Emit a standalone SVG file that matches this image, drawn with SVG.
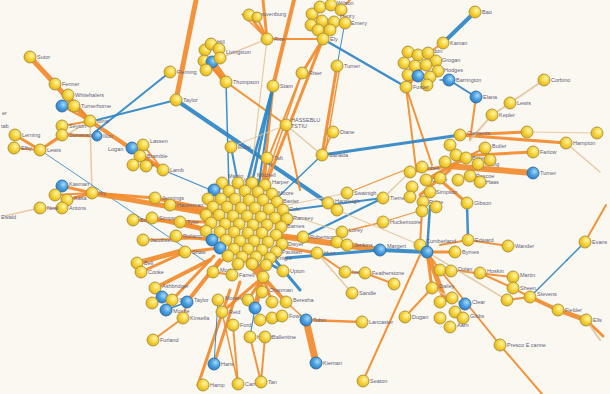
<svg xmlns="http://www.w3.org/2000/svg" width="610" height="394" viewBox="0 0 610 394">
<defs>
<radialGradient id="gy" cx="0.62" cy="0.38" r="0.7">
<stop offset="0" stop-color="#fff6a8"/><stop offset="0.5" stop-color="#f6d23a"/><stop offset="1" stop-color="#dcae12"/>
</radialGradient>
<radialGradient id="gb" cx="0.62" cy="0.38" r="0.7">
<stop offset="0" stop-color="#a6d8f8"/><stop offset="0.5" stop-color="#4a9fe0"/><stop offset="1" stop-color="#2a78c0"/>
</radialGradient>
<style>
.y circle{fill:url(#gy);stroke:#a89040;stroke-width:0.9}
.b circle{fill:url(#gb);stroke:#2d6c9e;stroke-width:0.9}
text{font-family:"Liberation Sans",Arial,sans-serif;font-size:5.5px;fill:#62627a}
#edges line{stroke-linecap:round;opacity:0.92}
.o{stroke:#f28b2e}
.bl{stroke:#2e86c5}
.t{stroke:#e6c6a0}
</style>
</defs>
<rect width="610" height="394" fill="#fbf8f1"/>
<g id="edges" fill="none">
<line class="o" x1="30" y1="57" x2="55" y2="84" stroke-width="5"/>
<line class="o" x1="55" y1="84" x2="74" y2="106" stroke-width="5"/>
<line class="o" x1="74" y1="106" x2="90" y2="121" stroke-width="5"/>
<line class="o" x1="68" y1="95" x2="90" y2="121" stroke-width="3"/>
<line class="o" x1="62" y1="106" x2="90" y2="121" stroke-width="2"/>
<line class="o" x1="90" y1="121" x2="62" y2="126" stroke-width="2"/>
<line class="t" x1="90" y1="121" x2="40" y2="150" stroke-width="1.5"/>
<line class="o" x1="15" y1="135" x2="40" y2="150" stroke-width="3"/>
<line class="o" x1="40" y1="150" x2="62" y2="135" stroke-width="3"/>
<line class="o" x1="62" y1="135" x2="97" y2="136" stroke-width="3"/>
<line class="o" x1="14" y1="148" x2="40" y2="150" stroke-width="2"/>
<line class="t" x1="90" y1="121" x2="92" y2="193" stroke-width="1.5"/>
<line class="o" x1="90" y1="121" x2="163" y2="170" stroke-width="4"/>
<line class="o" x1="132" y1="148" x2="163" y2="170" stroke-width="3"/>
<line class="o" x1="143" y1="145" x2="163" y2="170" stroke-width="2"/>
<line class="o" x1="140" y1="156" x2="163" y2="170" stroke-width="2"/>
<line class="bl" x1="163" y1="170" x2="230" y2="198" stroke-width="1.2"/>
<line class="bl" x1="170" y1="72" x2="95" y2="132" stroke-width="2"/>
<line class="bl" x1="176" y1="100" x2="97" y2="120" stroke-width="2"/>
<line class="bl" x1="176" y1="100" x2="328" y2="203" stroke-width="4"/>
<line class="o" x1="196" y1="0" x2="176" y2="100" stroke-width="5"/>
<line class="bl" x1="40" y1="150" x2="206" y2="262" stroke-width="0.9"/>
<line class="o" x1="62" y1="186" x2="92" y2="193" stroke-width="3"/>
<line class="o" x1="67" y1="200" x2="92" y2="193" stroke-width="3"/>
<line class="o" x1="55" y1="195" x2="92" y2="193" stroke-width="2"/>
<line class="t" x1="40" y1="208" x2="62" y2="208" stroke-width="2"/>
<line class="t" x1="4" y1="216" x2="40" y2="208" stroke-width="1.5"/>
<line class="o" x1="92" y1="193" x2="210" y2="214" stroke-width="5"/>
<line class="o" x1="92" y1="193" x2="155" y2="198" stroke-width="3"/>
<line class="o" x1="155" y1="198" x2="210" y2="210" stroke-width="4"/>
<line class="o" x1="170" y1="205" x2="215" y2="214" stroke-width="3"/>
<line class="o" x1="133" y1="220" x2="206" y2="222" stroke-width="3"/>
<line class="o" x1="152" y1="218" x2="206" y2="230" stroke-width="4"/>
<line class="o" x1="180" y1="222" x2="210" y2="230" stroke-width="3"/>
<line class="o" x1="143" y1="240" x2="210" y2="238" stroke-width="2"/>
<line class="o" x1="176" y1="236" x2="212" y2="240" stroke-width="3"/>
<line class="o" x1="185" y1="252" x2="220" y2="248" stroke-width="3"/>
<line class="o" x1="137" y1="263" x2="185" y2="250" stroke-width="5"/>
<line class="o" x1="141" y1="272" x2="185" y2="252" stroke-width="3"/>
<line class="o" x1="155" y1="288" x2="210" y2="260" stroke-width="4"/>
<line class="o" x1="187" y1="302" x2="220" y2="260" stroke-width="4"/>
<line class="o" x1="172" y1="300" x2="214" y2="256" stroke-width="3"/>
<line class="o" x1="162" y1="297" x2="172" y2="300" stroke-width="2"/>
<line class="o" x1="153" y1="340" x2="183" y2="318" stroke-width="2"/>
<line class="o" x1="183" y1="318" x2="187" y2="302" stroke-width="1.5"/>
<line class="bl" x1="166" y1="310" x2="187" y2="302" stroke-width="1.5"/>
<line class="o" x1="250" y1="262" x2="263" y2="277" stroke-width="9"/>
<line class="o" x1="263" y1="277" x2="255" y2="308" stroke-width="5"/>
<line class="o" x1="263" y1="277" x2="286" y2="302" stroke-width="4"/>
<line class="o" x1="263" y1="277" x2="272" y2="302" stroke-width="3"/>
<line class="o" x1="263" y1="277" x2="222" y2="312" stroke-width="3"/>
<line class="o" x1="263" y1="277" x2="248" y2="300" stroke-width="3"/>
<line class="o" x1="213" y1="272" x2="232" y2="275" stroke-width="2"/>
<line class="o" x1="213" y1="272" x2="228" y2="254" stroke-width="2"/>
<line class="o" x1="232" y1="275" x2="242" y2="254" stroke-width="3"/>
<line class="bl" x1="266" y1="262" x2="283" y2="271" stroke-width="3"/>
<line class="bl" x1="270" y1="254" x2="300" y2="290" stroke-width="3"/>
<line class="o" x1="198" y1="385" x2="230" y2="290" stroke-width="3"/>
<line class="o" x1="214" y1="364" x2="240" y2="282" stroke-width="3"/>
<line class="bl" x1="218" y1="300" x2="214" y2="364" stroke-width="1"/>
<line class="o" x1="238" y1="384" x2="233" y2="325" stroke-width="2"/>
<line class="o" x1="238" y1="384" x2="222" y2="312" stroke-width="1.5"/>
<line class="o" x1="261" y1="382" x2="250" y2="337" stroke-width="2"/>
<line class="o" x1="261" y1="382" x2="265" y2="337" stroke-width="2"/>
<line class="bl" x1="255" y1="308" x2="250" y2="337" stroke-width="1.2"/>
<line class="o" x1="286" y1="302" x2="306" y2="320" stroke-width="1.5"/>
<line class="o" x1="306" y1="320" x2="316" y2="363" stroke-width="7"/>
<line class="o" x1="306" y1="320" x2="362" y2="322" stroke-width="2.5"/>
<line class="o" x1="363" y1="381" x2="420" y2="255" stroke-width="2"/>
<line class="o" x1="280" y1="236" x2="380" y2="250" stroke-width="6"/>
<line class="bl" x1="286" y1="258" x2="380" y2="250" stroke-width="3"/>
<line class="o" x1="276" y1="246" x2="317" y2="253" stroke-width="3"/>
<line class="o" x1="317" y1="253" x2="345" y2="272" stroke-width="2"/>
<line class="o" x1="345" y1="272" x2="365" y2="273" stroke-width="2"/>
<line class="o" x1="365" y1="273" x2="394" y2="284" stroke-width="2"/>
<line class="t" x1="317" y1="253" x2="352" y2="293" stroke-width="1.5"/>
<line class="bl" x1="380" y1="250" x2="427" y2="252" stroke-width="4"/>
<line class="o" x1="276" y1="238" x2="303" y2="237" stroke-width="3"/>
<line class="bl" x1="303" y1="237" x2="383" y2="198" stroke-width="2"/>
<line class="bl" x1="290" y1="210" x2="383" y2="198" stroke-width="2"/>
<line class="t" x1="283" y1="206" x2="347" y2="193" stroke-width="1.2"/>
<line class="t" x1="287" y1="214" x2="342" y2="232" stroke-width="1.2"/>
<line class="o" x1="342" y1="232" x2="383" y2="222" stroke-width="1.5"/>
<line class="t" x1="383" y1="198" x2="410" y2="172" stroke-width="1.5"/>
<line class="o" x1="347" y1="193" x2="405" y2="170" stroke-width="1.2"/>
<line class="o" x1="383" y1="222" x2="422" y2="210" stroke-width="1.2"/>
<line class="t" x1="337" y1="210" x2="420" y2="245" stroke-width="1.2"/>
<line class="o" x1="427" y1="252" x2="455" y2="252" stroke-width="3"/>
<line class="o" x1="427" y1="252" x2="420" y2="245" stroke-width="2"/>
<line class="o" x1="427" y1="252" x2="432" y2="288" stroke-width="3"/>
<line class="o" x1="427" y1="252" x2="445" y2="300" stroke-width="5"/>
<line class="o" x1="427" y1="252" x2="440" y2="270" stroke-width="2"/>
<line class="bl" x1="430" y1="206" x2="427" y2="252" stroke-width="2.5"/>
<line class="o" x1="422" y1="210" x2="420" y2="245" stroke-width="2"/>
<line class="o" x1="440" y1="270" x2="500" y2="345" stroke-width="2"/>
<line class="o" x1="500" y1="345" x2="542" y2="394" stroke-width="2"/>
<line class="o" x1="450" y1="270" x2="513" y2="277" stroke-width="2"/>
<line class="o" x1="480" y1="273" x2="513" y2="288" stroke-width="2"/>
<line class="t" x1="427" y1="252" x2="507" y2="300" stroke-width="1.5"/>
<line class="o" x1="513" y1="288" x2="530" y2="297" stroke-width="2"/>
<line class="o" x1="507" y1="300" x2="530" y2="297" stroke-width="2"/>
<line class="o" x1="530" y1="297" x2="558" y2="310" stroke-width="4"/>
<line class="o" x1="558" y1="310" x2="586" y2="320" stroke-width="5"/>
<line class="o" x1="586" y1="320" x2="603" y2="336" stroke-width="3"/>
<line class="t" x1="586" y1="320" x2="600" y2="340" stroke-width="2"/>
<line class="bl" x1="567" y1="260" x2="530" y2="297" stroke-width="1.5"/>
<line class="bl" x1="585" y1="242" x2="567" y2="260" stroke-width="1.5"/>
<line class="o" x1="585" y1="242" x2="606" y2="205" stroke-width="2"/>
<line class="o" x1="432" y1="288" x2="405" y2="317" stroke-width="2"/>
<line class="t" x1="432" y1="288" x2="465" y2="305" stroke-width="1.5"/>
<line class="o" x1="508" y1="246" x2="468" y2="240" stroke-width="2"/>
<line class="o" x1="468" y1="240" x2="440" y2="245" stroke-width="2"/>
<line class="bl" x1="468" y1="240" x2="467" y2="203" stroke-width="2.5"/>
<line class="o" x1="467" y1="203" x2="440" y2="180" stroke-width="3"/>
<line class="o" x1="448" y1="166" x2="533" y2="173" stroke-width="6"/>
<line class="o" x1="460" y1="156" x2="533" y2="152" stroke-width="3"/>
<line class="o" x1="460" y1="135" x2="527" y2="132" stroke-width="3"/>
<line class="o" x1="460" y1="135" x2="566" y2="143" stroke-width="3"/>
<line class="t" x1="566" y1="143" x2="600" y2="172" stroke-width="1.5"/>
<line class="t" x1="527" y1="132" x2="597" y2="133" stroke-width="1"/>
<line class="o" x1="485" y1="148" x2="460" y2="160" stroke-width="2"/>
<line class="o" x1="430" y1="178" x2="465" y2="158" stroke-width="4"/>
<line class="o" x1="410" y1="172" x2="448" y2="166" stroke-width="3"/>
<line class="o" x1="420" y1="195" x2="450" y2="170" stroke-width="3"/>
<line class="o" x1="406" y1="87" x2="432" y2="165" stroke-width="2"/>
<line class="o" x1="406" y1="87" x2="416" y2="168" stroke-width="2"/>
<line class="o" x1="476" y1="97" x2="470" y2="140" stroke-width="2"/>
<line class="t" x1="492" y1="115" x2="470" y2="140" stroke-width="2"/>
<line class="t" x1="492" y1="115" x2="510" y2="103" stroke-width="2"/>
<line class="t" x1="510" y1="103" x2="544" y2="80" stroke-width="2"/>
<line class="bl" x1="449" y1="80" x2="476" y2="97" stroke-width="2"/>
<line class="bl" x1="440" y1="80" x2="449" y2="80" stroke-width="1.5"/>
<line class="bl" x1="475" y1="12" x2="443" y2="43" stroke-width="4"/>
<line class="o" x1="443" y1="43" x2="428" y2="53" stroke-width="2"/>
<line class="o" x1="420" y1="68" x2="406" y2="87" stroke-width="5"/>
<line class="o" x1="408" y1="74" x2="406" y2="87" stroke-width="4"/>
<line class="bl" x1="323" y1="39" x2="406" y2="87" stroke-width="2.5"/>
<line class="bl" x1="345" y1="22" x2="337" y2="66" stroke-width="1"/>
<line class="o" x1="337" y1="66" x2="322" y2="155" stroke-width="3"/>
<line class="o" x1="340" y1="66" x2="325" y2="155" stroke-width="1.5"/>
<line class="o" x1="323" y1="39" x2="267" y2="39" stroke-width="2"/>
<line class="o" x1="323" y1="39" x2="302" y2="73" stroke-width="3"/>
<line class="o" x1="323" y1="39" x2="266" y2="184" stroke-width="3"/>
<line class="o" x1="318" y1="30" x2="323" y2="39" stroke-width="4"/>
<line class="o" x1="330" y1="30" x2="323" y2="39" stroke-width="3"/>
<line class="o" x1="330" y1="5" x2="332" y2="0" stroke-width="2"/>
<line class="o" x1="346" y1="4" x2="350" y2="0" stroke-width="2"/>
<line class="o" x1="302" y1="73" x2="258" y2="184" stroke-width="2"/>
<line class="o" x1="302" y1="73" x2="264" y2="184" stroke-width="1.5"/>
<line class="o" x1="267" y1="39" x2="249" y2="15" stroke-width="3"/>
<line class="o" x1="267" y1="39" x2="257" y2="17" stroke-width="2"/>
<line class="o" x1="267" y1="39" x2="242" y2="14" stroke-width="1.5"/>
<line class="o" x1="263" y1="0" x2="267" y2="39" stroke-width="3"/>
<line class="t" x1="267" y1="39" x2="250" y2="183" stroke-width="1.2"/>
<line class="t" x1="267" y1="39" x2="220" y2="58" stroke-width="1.5"/>
<line class="o" x1="212" y1="62" x2="226" y2="82" stroke-width="7"/>
<line class="o" x1="204" y1="60" x2="226" y2="82" stroke-width="3"/>
<line class="o" x1="226" y1="82" x2="286" y2="125" stroke-width="2"/>
<line class="o" x1="286" y1="125" x2="300" y2="190" stroke-width="2"/>
<line class="bl" x1="226" y1="82" x2="229" y2="190" stroke-width="1.5"/>
<line class="o" x1="294" y1="0" x2="273" y2="86" stroke-width="4"/>
<line class="o" x1="273" y1="86" x2="263" y2="183" stroke-width="3"/>
<line class="bl" x1="273" y1="86" x2="245" y2="190" stroke-width="2.5"/>
<line class="bl" x1="273" y1="86" x2="252" y2="183" stroke-width="2.5"/>
<line class="bl" x1="273" y1="86" x2="258" y2="190" stroke-width="2"/>
<line class="bl" x1="231" y1="147" x2="238" y2="183" stroke-width="2"/>
<line class="t" x1="231" y1="147" x2="286" y2="125" stroke-width="1"/>
<line class="o" x1="267" y1="158" x2="265" y2="183" stroke-width="1.5"/>
<line class="bl" x1="322" y1="155" x2="460" y2="135" stroke-width="3"/>
<line class="bl" x1="322" y1="155" x2="277" y2="198" stroke-width="1.5"/>
<line class="o" x1="333" y1="132" x2="322" y2="155" stroke-width="1.5"/>
<line class="t" x1="286" y1="125" x2="322" y2="155" stroke-width="1.5"/>
<line class="bl" x1="328" y1="203" x2="337" y2="210" stroke-width="2"/>
</g>

<g id="n_sutor" class="y"><circle cx="30" cy="57" r="6"/><text x="37" y="59">Sutor</text></g>
<g id="n_fenner" class="y"><circle cx="55" cy="84" r="6"/><text x="62" y="86">Fenner</text></g>
<g id="n_whit" class="y"><circle cx="68" cy="95" r="6"/><text x="75" y="97">Whitehalers</text></g>
<g id="n_bt1" class="b"><circle cx="62" cy="106" r="6"/></g>
<g id="n_turn" class="y"><circle cx="74" cy="106" r="6"/><text x="81" y="108">Turnerhorne</text></g>
<g id="n_ionia" class="y"><circle cx="90" cy="121" r="6"/><text x="97" y="123">Ionia</text></g>
<g id="n_seyton" class="y"><circle cx="62" cy="126" r="6"/><text x="69" y="128">Seyton</text></g>
<g id="n_ler" class="y"><circle cx="15" cy="135" r="6"/><text x="22" y="137">Lerning</text></g>
<g id="n_elby" class="y"><circle cx="14" cy="148" r="6"/><text x="21" y="150">Elby</text></g>
<g id="n_lewis" class="y"><circle cx="40" cy="150" r="6"/><text x="47" y="152">Lewis</text></g>
<g id="n_stev" class="y"><circle cx="62" cy="135" r="6"/><text x="69" y="137">Stevenson</text></g>
<g id="n_ilion" class="b"><circle cx="97" cy="136" r="5"/><text x="103" y="138">Ilion</text></g>
<g id="n_fleming" class="y"><circle cx="170" cy="72" r="6"/><text x="177" y="74">Fleming</text></g>
<g id="n_taylor" class="y"><circle cx="176" cy="100" r="6"/><text x="183" y="102">Taylor</text></g>
<text x="2" y="115">er</text>
<text x="1" y="128">tab</text>

<g id="n_logan" class="b"><circle cx="132" cy="148" r="6"/><text x="108" y="151">Logan</text></g>
<g id="n_lassen" class="y"><circle cx="143" cy="145" r="6"/><text x="150" y="143">Lassen</text></g>
<g id="n_bram" class="y"><circle cx="140" cy="156" r="6"/><text x="147" y="158">Bramble</text></g>
<g id="n_shaw1" class="y"><circle cx="133" cy="165" r="6"/><text x="140" y="167">Shaw</text></g>
<g id="n_k1" class="y"><circle cx="146" cy="166" r="6"/></g>
<g id="n_lamb" class="y"><circle cx="163" cy="170" r="6"/><text x="170" y="172">Lamb</text></g>

<g id="n_kasman" class="b"><circle cx="62" cy="186" r="6"/><text x="69" y="186">Kasman</text></g>
<g id="n_d1" class="y"><circle cx="55" cy="195" r="6"/></g>
<g id="n_kasa" class="y"><circle cx="67" cy="200" r="6"/><text x="74" y="200">Kasa</text></g>
<g id="n_antons" class="y"><circle cx="62" cy="208" r="6"/><text x="69" y="210">Antons</text></g>
<g id="n_ivy" class="y"><circle cx="92" cy="193" r="6"/><text x="99" y="195">Ivy</text></g>
<g id="n_neal" class="y"><circle cx="40" cy="208" r="6"/><text x="47" y="210">Neal</text></g>
<text x="1" y="219">Ewald</text>

<g id="n_jen" class="y"><circle cx="155" cy="198" r="6"/><text x="162" y="200">Jennings</text></g>
<g id="n_haus" class="y"><circle cx="170" cy="205" r="6"/><text x="177" y="207">Haussman</text></g>
<g id="n_boyd" class="y"><circle cx="133" cy="220" r="6"/><text x="140" y="222">Boyd</text></g>
<g id="n_simp" class="y"><circle cx="152" cy="218" r="6"/><text x="159" y="220">Simpson</text></g>
<g id="n_tyler" class="y"><circle cx="180" cy="222" r="6"/><text x="187" y="224">Tyler</text></g>
<g id="n_jac" class="y"><circle cx="143" cy="240" r="6"/><text x="150" y="242">Jacobsen</text></g>
<g id="n_roll" class="y"><circle cx="176" cy="236" r="6"/><text x="183" y="238">Rolland</text></g>
<g id="n_shaw2" class="y"><circle cx="185" cy="252" r="6"/><text x="192" y="254">Shaw</text></g>
<g id="n_bell" class="y"><circle cx="137" cy="263" r="6"/><text x="144" y="265">Bell</text></g>
<g id="n_cook" class="y"><circle cx="141" cy="272" r="6"/><text x="148" y="274">Cooke</text></g>

<g id="n_ash" class="y"><circle cx="155" cy="288" r="6"/><text x="162" y="288">Ashbridger</text></g>
<g id="n_bl1" class="b"><circle cx="162" cy="297" r="6"/></g>
<g id="n_f2" class="y"><circle cx="152" cy="303" r="6"/></g>
<g id="n_sim" class="y"><circle cx="172" cy="300" r="6"/><text x="179" y="302">Sim</text></g>
<g id="n_bl2" class="b"><circle cx="187" cy="302" r="6"/><text x="194" y="302">Taylor</text></g>
<g id="n_bl3" class="b"><circle cx="166" cy="310" r="6"/><text x="173" y="313">Moshe</text></g>
<g id="n_kins" class="y"><circle cx="183" cy="318" r="6"/><text x="190" y="320">Kinsella</text></g>
<g id="n_furl" class="y"><circle cx="153" cy="340" r="6"/><text x="160" y="342">Furland</text></g>

<g id="n_morl" class="y"><circle cx="213" cy="272" r="6"/><text x="220" y="272">Morley</text></g>
<g id="n_farr" class="y"><circle cx="232" cy="275" r="6"/><text x="239" y="277">Farrell</text></g>
<g id="n_g3" class="y"><circle cx="263" cy="277" r="6"/></g>
<g id="n_upton" class="y"><circle cx="283" cy="271" r="6"/><text x="290" y="273">Upton</text></g>
<g id="n_moreno" class="y"><circle cx="218" cy="300" r="6"/><text x="225" y="300">Moreno</text></g>
<g id="n_reid" class="y"><circle cx="222" cy="312" r="6"/><text x="229" y="314">Reid</text></g>
<g id="n_ford" class="y"><circle cx="233" cy="325" r="6"/><text x="240" y="327">Ford</text></g>
<g id="n_g8" class="y"><circle cx="248" cy="300" r="6"/></g>
<g id="n_chap" class="y"><circle cx="262" cy="292" r="6"/><text x="269" y="292">Chapman</text></g>
<g id="n_g10" class="y"><circle cx="272" cy="302" r="6"/></g>
<g id="n_ber" class="y"><circle cx="286" cy="302" r="6"/><text x="293" y="302">Beresha</text></g>
<g id="n_lord" class="y"><circle cx="260" cy="320" r="6"/><text x="267" y="322">Lord</text></g>
<g id="n_g13" class="y"><circle cx="272" cy="318" r="6"/></g>
<g id="n_fowl" class="y"><circle cx="282" cy="316" r="6"/><text x="289" y="318">Fowl</text></g>
<g id="n_bl7" class="b"><circle cx="255" cy="308" r="6"/></g>
<g id="n_hall" class="y"><circle cx="250" cy="337" r="6"/><text x="257" y="339">Hallett</text></g>
<g id="n_ball" class="y"><circle cx="265" cy="337" r="6"/><text x="272" y="339">Ballentine</text></g>
<g id="n_tobin" class="b"><circle cx="306" cy="320" r="6"/><text x="313" y="322">Tobin</text></g>
<g id="n_lanc" class="y"><circle cx="362" cy="322" r="6"/><text x="369" y="324">Lancaster</text></g>
<g id="n_kier" class="b"><circle cx="316" cy="363" r="6"/><text x="323" y="365">Kiernan</text></g>
<g id="n_haris" class="b"><circle cx="214" cy="364" r="6"/><text x="221" y="366">Haris</text></g>
<g id="n_hamp" class="y"><circle cx="203" cy="385" r="6"/><text x="210" y="387">Hamp</text></g>
<g id="n_carr" class="y"><circle cx="238" cy="384" r="6"/><text x="245" y="386">Carrow</text></g>
<g id="n_tan" class="y"><circle cx="261" cy="382" r="6"/><text x="268" y="384">Tan</text></g>
<g id="n_seat" class="y"><circle cx="363" cy="381" r="6"/><text x="370" y="383">Seaton</text></g>

<g id="n_rob" class="y"><circle cx="303" cy="237" r="6"/><text x="310" y="239">Robertson</text></g>
<g id="n_lor" class="y"><circle cx="342" cy="232" r="6"/><text x="349" y="232">Lorey</text></g>
<g id="n_h3" class="y"><circle cx="337" cy="242" r="6"/></g>
<g id="n_jenk" class="y"><circle cx="347" cy="245" r="6"/><text x="354" y="247">Jenkins</text></g>
<g id="n_hunt" class="y"><circle cx="317" cy="253" r="6"/><text x="324" y="255">Hunt</text></g>
<g id="n_marg" class="b"><circle cx="380" cy="250" r="6"/><text x="387" y="248">Margert</text></g>
<g id="n_h7" class="y"><circle cx="345" cy="272" r="6"/><text x="352" y="274">Ives</text></g>
<g id="n_feat" class="y"><circle cx="365" cy="273" r="6"/><text x="372" y="275">Featherstone</text></g>
<g id="n_h8" class="y"><circle cx="394" cy="284" r="6"/></g>
<g id="n_sand" class="y"><circle cx="352" cy="293" r="6"/><text x="359" y="295">Sandle</text></g>

<g id="n_ruby" class="y"><circle cx="231" cy="147" r="6"/><text x="238" y="149">Ruby</text></g>
<g id="n_taft" class="y"><circle cx="267" cy="158" r="6"/><text x="274" y="160">Taft</text></g>
<g id="n_kalb" class="y"><circle cx="286" cy="125" r="6"/><text x="291" y="122" fill="#7a5aa0">HASSEBLU</text><text x="291" y="128" fill="#7a5aa0">TSTIU</text></g>
<g id="n_diane" class="y"><circle cx="333" cy="132" r="6"/><text x="340" y="134">Diane</text></g>
<g id="n_sanda" class="y"><circle cx="322" cy="155" r="6"/><text x="329" y="157">Sanada</text></g>
<g id="n_swain" class="y"><circle cx="347" cy="193" r="6"/><text x="354" y="195">Swainigh</text></g>
<g id="n_hans" class="y"><circle cx="328" cy="203" r="6"/><text x="335" y="203">Hansleigh</text></g>
<g id="n_ha" class="y"><circle cx="337" cy="210" r="6"/></g>
<g id="n_tier" class="y"><circle cx="383" cy="198" r="6"/><text x="390" y="200">Tierney</text></g>
<g id="n_huck" class="y"><circle cx="383" cy="222" r="6"/><text x="390" y="224">Huckemoore</text></g>

<g id="n_clem" class="y"><circle cx="460" cy="135" r="6"/><text x="467" y="135">Clements</text></g>
<g id="n_r1" class="y"><circle cx="527" cy="132" r="6"/></g>
<g id="n_r2" class="y"><circle cx="597" cy="133" r="6"/></g>
<g id="n_hampton" class="y"><circle cx="566" cy="143" r="6"/><text x="573" y="145">Hampton</text></g>
<g id="n_farlow" class="y"><circle cx="533" cy="152" r="6"/><text x="540" y="154">Farlow</text></g>
<g id="n_turner3" class="b"><circle cx="533" cy="173" r="6"/><text x="540" y="175">Turner</text></g>
<g id="n_butler" class="y"><circle cx="485" cy="148" r="6"/><text x="492" y="148">Butler</text></g>
<g id="n_c1" class="y"><circle cx="450" cy="145" r="6"/></g>
<g id="n_c2" class="y"><circle cx="456" cy="155" r="6"/></g>
<g id="n_c3" class="y"><circle cx="445" cy="162" r="6"/></g>
<g id="n_c4" class="y"><circle cx="466" cy="158" r="6"/><text x="472" y="160">Bates</text></g>
<g id="n_c5" class="y"><circle cx="478" cy="164" r="6"/><text x="484" y="166">Young</text></g>
<g id="n_c6" class="y"><circle cx="490" cy="160" r="6"/></g>
<g id="n_c7" class="y"><circle cx="470" cy="176" r="6"/><text x="476" y="178">Pascoe</text></g>
<g id="n_c8" class="y"><circle cx="458" cy="180" r="6"/></g>
<g id="n_c9" class="y"><circle cx="480" cy="182" r="6"/><text x="486" y="184">Haas</text></g>
<g id="n_coomb" class="y"><circle cx="410" cy="172" r="6"/><text x="416" y="170">Coombes</text></g>
<g id="n_c11" class="y"><circle cx="422" cy="167" r="6"/></g>
<g id="n_c12" class="y"><circle cx="426" cy="180" r="6"/><text x="432" y="182">Carter</text></g>
<g id="n_c13" class="y"><circle cx="412" cy="187" r="6"/></g>
<g id="n_c14" class="y"><circle cx="440" cy="178" r="6"/></g>
<g id="n_c15" class="y"><circle cx="430" cy="192" r="6"/><text x="436" y="194">Simpson</text></g>
<g id="n_c16" class="y"><circle cx="410" cy="197" r="6"/></g>
<g id="n_c17" class="y"><circle cx="423" cy="202" r="6"/><text x="429" y="204">Ridge</text></g>
<g id="n_c18" class="y"><circle cx="436" cy="207" r="6"/></g>
<g id="n_c19" class="y"><circle cx="422" cy="211" r="6"/></g>
<g id="n_gibson" class="y"><circle cx="467" cy="203" r="6"/><text x="474" y="205">Gibson</text></g>
<g id="n_edward" class="y"><circle cx="468" cy="240" r="6"/><text x="475" y="242">Edward</text></g>
<g id="n_wander" class="y"><circle cx="508" cy="246" r="6"/><text x="515" y="248">Wander</text></g>
<g id="n_evans" class="y"><circle cx="585" cy="242" r="6"/><text x="592" y="244">Evans</text></g>
<g id="n_cumb" class="y"><circle cx="420" cy="245" r="6"/><text x="426" y="243">Cumberland</text></g>
<g id="n_blc" class="b"><circle cx="427" cy="252" r="6"/></g>
<g id="n_byrn" class="y"><circle cx="455" cy="252" r="6"/><text x="462" y="254">Byrnes</text></g>

<g id="n_q1" class="y"><circle cx="440" cy="270" r="6"/></g>
<g id="n_q2" class="y"><circle cx="451" cy="271" r="6"/><text x="458" y="271">Dolan</text></g>
<g id="n_q3" class="y"><circle cx="480" cy="273" r="6"/><text x="487" y="273">Hoskin</text></g>
<g id="n_q4" class="y"><circle cx="513" cy="277" r="6"/><text x="520" y="277">Martin</text></g>
<g id="n_q5" class="y"><circle cx="513" cy="288" r="6"/><text x="520" y="290">Sheen</text></g>
<g id="n_q6" class="y"><circle cx="507" cy="300" r="6"/></g>
<g id="n_stevens" class="y"><circle cx="530" cy="297" r="6"/><text x="537" y="296">Stevens</text></g>
<g id="n_fielder" class="y"><circle cx="558" cy="310" r="6"/><text x="565" y="312">Fielder</text></g>
<g id="n_ells" class="y"><circle cx="586" cy="320" r="6"/><text x="593" y="322">Ells</text></g>
<g id="n_dailey" class="y"><circle cx="432" cy="288" r="6"/><text x="439" y="288">Dailey</text></g>
<g id="n_dugan" class="y"><circle cx="405" cy="317" r="6"/><text x="412" y="319">Dugan</text></g>
<g id="n_p1" class="y"><circle cx="440" cy="302" r="6"/></g>
<g id="n_p2" class="y"><circle cx="452" cy="298" r="6"/></g>
<g id="n_p3" class="y"><circle cx="455" cy="312" r="6"/></g>
<g id="n_p4" class="y"><circle cx="440" cy="318" r="6"/></g>
<g id="n_pb" class="b"><circle cx="465" cy="304" r="6"/><text x="472" y="304">Clear</text></g>
<g id="n_p5" class="y"><circle cx="463" cy="318" r="6"/><text x="470" y="318">Gibbs</text></g>
<g id="n_p6" class="y"><circle cx="450" cy="327" r="6"/><text x="457" y="327">Aarn</text></g>
<g id="n_presco" class="y"><circle cx="500" cy="345" r="6"/><text x="507" y="347">Presco E canne</text></g>

<g id="n_bao" class="y"><circle cx="475" cy="12" r="6"/><text x="482" y="14">Bao</text></g>
<g id="n_kaman" class="y"><circle cx="443" cy="43" r="6"/><text x="450" y="45">Kaman</text></g>
<g id="n_t1" class="y"><circle cx="408" cy="52" r="6"/></g>
<g id="n_t2" class="y"><circle cx="418" cy="55" r="6"/><text x="424" y="53">Gordon</text></g>
<g id="n_t3" class="y"><circle cx="428" cy="53" r="6"/></g>
<g id="n_t4" class="y"><circle cx="436" cy="61" r="6"/><text x="442" y="62">Grogan</text></g>
<g id="n_t5" class="y"><circle cx="404" cy="63" r="6"/></g>
<g id="n_t6" class="y"><circle cx="415" cy="66" r="6"/></g>
<g id="n_t7" class="y"><circle cx="426" cy="65" r="6"/></g>
<g id="n_t8" class="y"><circle cx="438" cy="71" r="6"/><text x="444" y="72">Hodges</text></g>
<g id="n_t9" class="y"><circle cx="408" cy="75" r="6"/></g>
<g id="n_tb" class="b"><circle cx="418" cy="76" r="6"/></g>
<g id="n_t10" class="y"><circle cx="430" cy="77" r="6"/></g>
<g id="n_t11" class="y"><circle cx="427" cy="85" r="6"/></g>
<g id="n_foster" class="y"><circle cx="406" cy="87" r="6"/><text x="413" y="89">Foster</text></g>
<g id="n_barr" class="b"><circle cx="449" cy="80" r="6"/><text x="456" y="82">Barrington</text></g>
<g id="n_elana" class="b"><circle cx="476" cy="97" r="6"/><text x="483" y="99">Elana</text></g>
<g id="n_corb" class="y"><circle cx="544" cy="80" r="6"/><text x="551" y="82">Corbino</text></g>
<g id="n_lewis2" class="y"><circle cx="510" cy="103" r="6"/><text x="517" y="105">Lewis</text></g>
<g id="n_kepler" class="y"><circle cx="492" cy="115" r="6"/><text x="499" y="117">Kepler</text></g>

<g id="n_u1" class="y"><circle cx="312" cy="14" r="6"/></g>
<g id="n_u2" class="y"><circle cx="320" cy="7" r="6"/></g>
<g id="n_u3" class="y"><circle cx="331" cy="5" r="6"/><text x="337" y="5">Wilson</text></g>
<g id="n_u4" class="y"><circle cx="341" cy="10" r="6"/></g>
<g id="n_u6" class="y"><circle cx="311" cy="25" r="6"/></g>
<g id="n_u7" class="y"><circle cx="322" cy="21" r="6"/></g>
<g id="n_u8" class="y"><circle cx="334" cy="22" r="6"/><text x="340" y="18">Henry</text></g>
<g id="n_u9" class="y"><circle cx="345" cy="23" r="6"/><text x="351" y="25">Emery</text></g>
<g id="n_u10" class="y"><circle cx="318" cy="30" r="6"/></g>
<g id="n_u11" class="y"><circle cx="330" cy="30" r="6"/></g>
<g id="n_ely" class="y"><circle cx="323" cy="39" r="6"/><text x="330" y="41">Ely</text></g>
<g id="n_rouv" class="y"><circle cx="249" cy="15" r="6"/><text x="256" y="16">Rouvenburg</text></g>
<g id="n_rouv2" class="y"><circle cx="257" cy="17" r="5"/></g>
<g id="n_rice" class="y"><circle cx="267" cy="39" r="6"/><text x="274" y="41">Rice</text></g>
<g id="n_v1" class="y"><circle cx="205" cy="50" r="6"/></g>
<g id="n_v2" class="y"><circle cx="211" cy="44" r="6"/><text x="217" y="44">Hill</text></g>
<g id="n_v3" class="y"><circle cx="219" cy="49" r="6"/></g>
<g id="n_v4" class="y"><circle cx="204" cy="61" r="6"/></g>
<g id="n_vb" class="b"><circle cx="212" cy="62" r="6"/></g>
<g id="n_v5" class="y"><circle cx="220" cy="58" r="6"/><text x="226" y="54">Livingston</text></g>
<g id="n_v6" class="y"><circle cx="206" cy="70" r="6"/></g>
<g id="n_thompson" class="y"><circle cx="226" cy="82" r="6"/><text x="233" y="84">Thompson</text></g>
<g id="n_stam" class="y"><circle cx="273" cy="86" r="6"/><text x="280" y="88">Stam</text></g>
<g id="n_riser" class="y"><circle cx="302" cy="73" r="6"/><text x="309" y="75">Riser</text></g>
<g id="n_turner2" class="y"><circle cx="337" cy="66" r="6"/><text x="344" y="68">Turner</text></g>

<g id="n_m1" class="y"><circle cx="222" cy="183" r="6"/><text x="228" y="178">Martin</text></g>
<g id="n_m2" class="y"><circle cx="238" cy="183" r="6"/><text x="244" y="182">Wood</text></g>
<g id="n_m3" class="y"><circle cx="252" cy="183" r="6"/><text x="257" y="177">Mitchell</text></g>
<g id="n_m4" class="y"><circle cx="265" cy="185" r="6"/><text x="272" y="184">Harper</text></g>
<g id="n_m5" class="b"><circle cx="214" cy="190" r="6"/></g>
<g id="n_m6" class="y"><circle cx="229" cy="191" r="6"/></g>
<g id="n_m7" class="y"><circle cx="245" cy="191" r="6"/></g>
<g id="n_m8" class="y"><circle cx="258" cy="192" r="6"/></g>
<g id="n_m9" class="y"><circle cx="272" cy="194" r="6"/><text x="278" y="195">Moore</text></g>
<g id="n_m10" class="y"><circle cx="208" cy="199" r="6"/></g>
<g id="n_m11" class="y"><circle cx="221" cy="199" r="6"/></g>
<g id="n_m12" class="y"><circle cx="235" cy="199" r="6"/></g>
<g id="n_m13" class="y"><circle cx="249" cy="200" r="6"/></g>
<g id="n_m14" class="y"><circle cx="263" cy="200" r="6"/></g>
<g id="n_m15" class="y"><circle cx="277" cy="202" r="6"/><text x="283" y="203">Baxter</text></g>
<g id="n_m16" class="y"><circle cx="213" cy="207" r="6"/></g>
<g id="n_m17" class="y"><circle cx="227" cy="207" r="6"/></g>
<g id="n_m18" class="y"><circle cx="241" cy="208" r="6"/></g>
<g id="n_m19" class="y"><circle cx="255" cy="208" r="6"/></g>
<g id="n_m20" class="y"><circle cx="269" cy="209" r="6"/></g>
<g id="n_m21" class="y"><circle cx="283" cy="210" r="6"/><text x="289" y="211">Cole</text></g>
<g id="n_m22" class="y"><circle cx="206" cy="215" r="6"/></g>
<g id="n_m23" class="y"><circle cx="219" cy="215" r="6"/></g>
<g id="n_m24" class="y"><circle cx="233" cy="216" r="6"/></g>
<g id="n_m25" class="y"><circle cx="247" cy="216" r="6"/></g>
<g id="n_m26" class="y"><circle cx="261" cy="217" r="6"/></g>
<g id="n_m27" class="y"><circle cx="275" cy="218" r="6"/></g>
<g id="n_m28" class="y"><circle cx="287" cy="219" r="6"/><text x="293" y="220">Ramsey</text></g>
<g id="n_m29" class="y"><circle cx="211" cy="223" r="6"/></g>
<g id="n_m30" class="y"><circle cx="225" cy="224" r="6"/></g>
<g id="n_m31" class="y"><circle cx="239" cy="224" r="6"/></g>
<g id="n_m32" class="y"><circle cx="253" cy="225" r="6"/></g>
<g id="n_m33" class="y"><circle cx="267" cy="225" r="6"/></g>
<g id="n_m34" class="y"><circle cx="281" cy="227" r="6"/><text x="287" y="228">Barnes</text></g>
<g id="n_m35" class="y"><circle cx="206" cy="231" r="6"/></g>
<g id="n_m36" class="y"><circle cx="220" cy="232" r="6"/></g>
<g id="n_m37" class="y"><circle cx="234" cy="232" r="6"/></g>
<g id="n_m38" class="y"><circle cx="248" cy="233" r="6"/></g>
<g id="n_m39" class="y"><circle cx="262" cy="233" r="6"/></g>
<g id="n_m40" class="y"><circle cx="276" cy="235" r="6"/></g>
<g id="n_m41" class="b"><circle cx="212" cy="240" r="6"/></g>
<g id="n_m42" class="y"><circle cx="226" cy="240" r="6"/></g>
<g id="n_m43" class="y"><circle cx="240" cy="241" r="6"/></g>
<g id="n_m44" class="y"><circle cx="254" cy="241" r="6"/></g>
<g id="n_m45" class="y"><circle cx="268" cy="242" r="6"/></g>
<g id="n_m46" class="y"><circle cx="282" cy="244" r="6"/><text x="288" y="246">Dwyer</text></g>
<g id="n_m47" class="b"><circle cx="220" cy="248" r="6"/></g>
<g id="n_m48" class="y"><circle cx="234" cy="249" r="6"/></g>
<g id="n_m49" class="y"><circle cx="248" cy="249" r="6"/></g>
<g id="n_m50" class="y"><circle cx="262" cy="250" r="6"/></g>
<g id="n_m51" class="y"><circle cx="276" cy="252" r="6"/><text x="282" y="254">Paulsen</text></g>
<g id="n_m52" class="y"><circle cx="228" cy="256" r="6"/></g>
<g id="n_m53" class="y"><circle cx="242" cy="257" r="6"/></g>
<g id="n_m54" class="y"><circle cx="256" cy="257" r="6"/></g>
<g id="n_m55" class="y"><circle cx="270" cy="258" r="6"/><text x="276" y="260">Knight</text></g>
<g id="n_m56" class="y"><circle cx="238" cy="264" r="6"/></g>
<g id="n_m57" class="y"><circle cx="252" cy="264" r="6"/><text x="258" y="267">Kerr</text></g>
<g id="n_m58" class="y"><circle cx="266" cy="265" r="6"/></g>
</svg>
